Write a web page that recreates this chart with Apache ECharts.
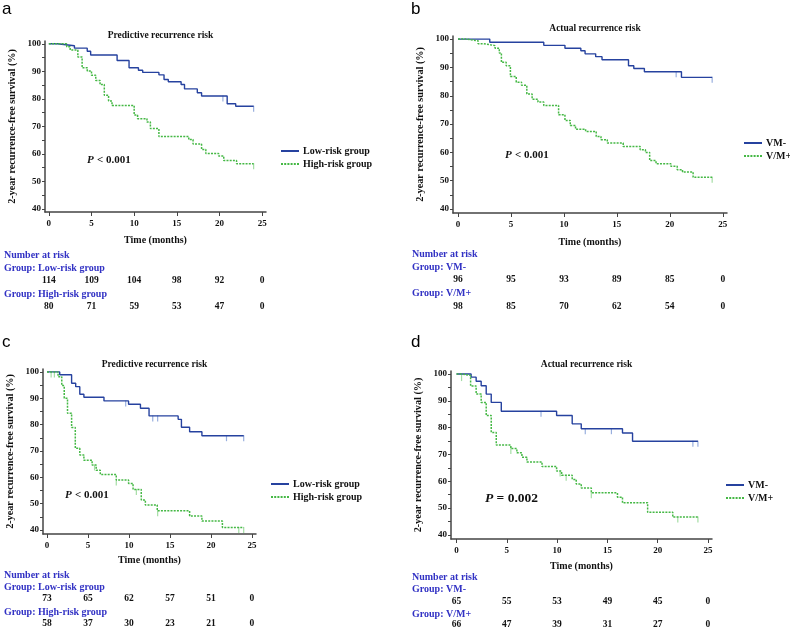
<!DOCTYPE html>
<html>
<head>
  <meta charset="utf-8">
  <title>Recurrence-free survival</title>
  <script src="https://cdn.jsdelivr.net/npm/echarts@6/dist/echarts.min.js"></script>
</head>
<body style="margin:0;background:#fff">
<div id="main" style="width: 790px;height:630px;"></div>
<script type="text/javascript">
  // KM curves: [time (months), survival %] after each drop
  var aLow = [[0,100],[1.0,99.3],[3.0,98.4],[4.5,97.3],[4.9,95.9],[8.0,93.9],[9.4,91.3],[10.5,90.4],[11.0,89.6],[12.9,88.7],[13.5,87.0],[14.0,86.2],[15.5,85.2],[15.9,83.6],[17.4,82.2],[17.9,81.0],[20.9,78.2],[21.9,77.3],[24.0,77.3]];
  var aHigh = [[0,100],[2.1,98.9],[2.5,97.7],[3.4,95.2],[3.9,91.3],[4.5,90.1],[5.0,88.6],[5.5,86.7],[6.0,85.2],[6.5,81.3],[7.0,79.2],[7.4,77.6],[10.0,74.1],[10.4,72.8],[11.5,71.6],[11.9,69.2],[12.9,66.3],[16.4,65.2],[16.9,63.6],[17.9,61.6],[18.4,60.1],[19.9,59.2],[20.5,57.6],[22.0,56.4],[24.0,56.4]];
  var bLow = [[0,100],[3.0,98.9],[8.1,97.8],[10.1,96.8],[11.6,95.9],[12.0,94.8],[13.0,93.8],[13.6,92.7],[16.1,90.6],[16.6,89.6],[17.6,88.5],[21.1,86.5],[24.0,86.5]];
  var bHigh = [[0,100],[0.8,99.4],[1.9,98.4],[2.4,97.7],[3.5,96.8],[3.9,95.1],[4.1,91.8],[4.55,90.6],[4.95,86.8],[5.5,84.8],[6.0,83.7],[6.5,80.6],[7.0,78.8],[7.55,77.8],[8.1,76.6],[9.5,73.3],[10.1,71.3],[10.6,69.5],[11.1,68.2],[12.05,67.4],[13.05,65.6],[13.5,64.5],[14.1,63.3],[15.6,62.1],[17.2,60.9],[17.7,60.0],[18.1,57.1],[18.7,56.0],[20.1,55.1],[20.7,53.9],[21.2,53.1],[22.2,51.2],[24.0,51.2]];
  var cLow = [[0,100],[1.55,98.9],[3.0,95.7],[3.5,94.4],[4.0,91.5],[4.5,90.4],[6.95,89.0],[9.95,87.7],[11.4,86.2],[12.45,83.3],[16.0,82.0],[16.4,79.0],[17.4,77.3],[18.9,75.8],[24.0,75.8]];
  var cHigh = [[0,100],[1.35,98.2],[1.8,94.8],[2.1,90.0],[2.5,84.3],[3.0,78.9],[3.45,71.0],[4.0,68.5],[4.5,66.5],[5.5,64.7],[6.0,62.7],[6.5,61.1],[8.45,59.0],[9.95,57.7],[10.5,55.4],[11.5,51.4],[12.0,49.5],[13.45,47.3],[17.4,45.3],[18.9,43.4],[21.4,41.0],[24.0,41.0]];
  var dLow = [[0,100],[1.45,98.8],[1.95,97.3],[2.45,95.6],[2.95,92.5],[3.45,89.4],[4.45,86.1],[9.95,84.5],[11.5,81.4],[12.4,79.6],[16.5,78.0],[17.5,74.9],[24.0,74.9]];
  var dHigh = [[0,100],[0.5,99.4],[1.4,95.5],[1.95,92.5],[2.45,89.4],[2.95,84.5],[3.45,78.2],[3.95,73.5],[5.4,72.2],[6.0,70.6],[6.5,69.0],[7.0,67.2],[8.5,65.5],[9.95,63.8],[10.45,62.3],[11.5,60.7],[11.9,59.0],[12.4,57.5],[13.4,55.7],[16.0,54.1],[16.5,52.0],[19.0,48.5],[21.5,46.7],[24.0,46.7]];

  // censored observations (months)
  var aLowCens = [20.4, 24];
  var aHighCens = [24];
  var bLowCens = [20.6, 24];
  var bHighCens = [24];
  var cLowCens = [9.6, 12.9, 13.5, 21.9, 24];
  var cHighCens = [0.5, 0.9, 5.8, 8.45, 10.9, 13.5, 23.4, 24];
  var dLowCens = [8.4, 12.8, 15.4, 23.5, 24];
  var dHighCens = [0.5, 5.4, 10.3, 10.9, 13.4, 22.0, 24];

  // numbers at risk at 0, 5, 10, 15, 20, 25 months
  var riskTimes = [0, 5, 10, 15, 20, 25];
  var aRiskLow = [114, 109, 104, 98, 92, 0];
  var aRiskHigh = [80, 71, 59, 53, 47, 0];
  var bRiskLow = [96, 95, 93, 89, 85, 0];
  var bRiskHigh = [98, 85, 70, 62, 54, 0];
  var cRiskLow = [73, 65, 62, 57, 51, 0];
  var cRiskHigh = [58, 37, 30, 23, 21, 0];
  var dRiskLow = [65, 55, 53, 49, 45, 0];
  var dRiskHigh = [66, 47, 39, 31, 27, 0];

  var xTicks = [0, 5, 10, 15, 20, 25];
  var yLabels = [40, 50, 60, 70, 80, 90, 100];
  var yTicks = [40, 45, 50, 55, 60, 65, 70, 75, 80, 85, 90, 95, 100];

  var SERIF = '"Liberation Serif", "Times New Roman", serif';
  var BLUE = '#26429f';
  var BLUE_LIGHT = '#7f9bd6';
  var GREEN = '#45b845';
  var TABLE_BLUE = '#3232c4';

  var panels = [
    { letter: 'a', title: 'Predictive recurrence risk', names: ['Low-risk group', 'High-risk group'],
      curves: [aLow, aHigh], cens: [aLowCens, aHighCens], risk: [aRiskLow, aRiskHigh], p: '< 0.001',
      grid: { left: 45, top: 41, width: 221, height: 171 }, xr: [-0.45, 25.45], yr: [38.9, 101],
      titleY: 26, timeGap: 23, legend: [280, 146], pPos: [87, 160], pSize: 11,
      letterPos: [2, 1], tableX: 4, tableY: [255, 268, 281, 294, 307] },
    { letter: 'b', title: 'Actual recurrence risk', names: ['VM-', 'V/M+'],
      curves: [bLow, bHigh], cens: [bLowCens, bHighCens], risk: [bRiskLow, bRiskHigh], p: '< 0.001',
      grid: { left: 453, top: 36, width: 274, height: 177 }, xr: [-0.47, 25.4], yr: [38.6, 101.1],
      titleY: 19, timeGap: 24, legend: [743, 138], pPos: [505, 155], pSize: 11,
      letterPos: [411, 1], tableX: 412, tableY: [254, 267, 280, 293, 307] },
    { letter: 'c', title: 'Predictive recurrence risk', names: ['Low-risk group', 'High-risk group'],
      curves: [cLow, cHigh], cens: [cLowCens, cHighCens], risk: [cRiskLow, cRiskHigh], p: '< 0.001',
      grid: { left: 43, top: 369, width: 213, height: 165 }, xr: [-0.49, 25.5], yr: [38.5, 101.1],
      titleY: 355, timeGap: 21, legend: [270, 479], pPos: [65, 495], pSize: 11,
      letterPos: [2, 334], tableX: 4, tableY: [575, 587, 599, 612, 624] },
    { letter: 'd', title: 'Actual recurrence risk', names: ['VM-', 'V/M+'],
      curves: [dLow, dHigh], cens: [dLowCens, dHighCens], risk: [dRiskLow, dRiskHigh], p: '= 0.002',
      grid: { left: 451, top: 371, width: 261, height: 168 }, xr: [-0.55, 25.4], yr: [38.5, 101.1],
      titleY: 355, timeGap: 22, legend: [725, 480], pPos: [485, 499], pSize: 13.5,
      letterPos: [411, 334], tableX: 412, tableY: [577, 589, 602, 614, 625] }
  ];

  function stepValue(curve, t) {
    var v = curve[0][1];
    for (var i = 0; i < curve.length; i++) {
      if (curve[i][0] <= t) v = curve[i][1];
    }
    return v;
  }

  var chart = echarts.init(document.getElementById('main'));

  var grids = [], xAxes = [], yAxes = [], series = [], legends = [], titles = [];
  panels.forEach(function (p, i) {
    grids.push(p.grid);
    titles.push({
      text: p.title, left: p.grid.left + p.grid.width / 2, top: p.titleY, textAlign: 'center',
      textStyle: { fontFamily: SERIF, fontWeight: 'bold', fontSize: 9.5, color: '#111' }
    });
    xAxes.push({
      type: 'value', gridIndex: i, min: p.xr[0], max: p.xr[1],
      name: 'Time (months)', nameLocation: 'middle', nameGap: p.timeGap,
      nameTextStyle: { fontFamily: SERIF, fontWeight: 'bold', fontSize: 10, color: '#111' },
      axisLine: { onZero: false, lineStyle: { color: '#444', width: 1.5 } },
      axisTick: { customValues: xTicks, length: 4, lineStyle: { color: '#444' } },
      axisLabel: { customValues: xTicks, margin: 7, fontFamily: SERIF, fontWeight: 'bold', fontSize: 9, color: '#111' },
      splitLine: { show: false }
    });
    yAxes.push({
      type: 'value', gridIndex: i, min: p.yr[0], max: p.yr[1],
      name: '2-year recurrence-free survival (%)', nameLocation: 'middle', nameGap: 28,
      nameTextStyle: { fontFamily: SERIF, fontWeight: 'bold', fontSize: 10.2, color: '#111' },
      axisLine: { onZero: false, lineStyle: { color: '#444', width: 1.5 } },
      axisTick: { customValues: yTicks, length: 3, lineStyle: { color: '#444' } },
      axisLabel: { customValues: yLabels, margin: 4, fontFamily: SERIF, fontWeight: 'bold', fontSize: 9, color: '#111' },
      splitLine: { show: false }
    });
    p.curves.forEach(function (c, k) {
      series.push({
        name: p.names[k], type: 'line', xAxisIndex: i, yAxisIndex: i, step: 'end',
        symbol: 'none', data: c, animation: false, silent: true,
        lineStyle: k === 0
          ? { color: BLUE, width: 1.4 }
          : { color: GREEN, width: 1.5, type: [2, 1.2] },
        itemStyle: { color: k === 0 ? BLUE : GREEN }
      });
      series.push({
        name: 'cens-' + p.letter + k, type: 'scatter', xAxisIndex: i, yAxisIndex: i,
        symbol: 'rect', symbolSize: [1.2, 6], symbolOffset: [0, 2.5], animation: false, silent: true,
        itemStyle: { color: k === 0 ? BLUE_LIGHT : '#8fd48f' },
        data: p.cens[k].map(function (t) { return [t, stepValue(c, t)]; })
      });
    });
    legends.push({
      data: p.names, orient: 'vertical', left: p.legend[0], top: p.legend[1], padding: 0,
      itemWidth: 18, itemHeight: 10, itemGap: 3, selectedMode: false,
      itemStyle: { opacity: 0 },
      textStyle: { fontFamily: SERIF, fontWeight: 'bold', fontSize: 10, color: '#111', padding: [0, 0, 0, -1] }
    });
  });

  var option = {
    backgroundColor: '#fff',
    animation: false,
    title: titles,
    legend: legends,
    grid: grids,
    xAxis: xAxes,
    yAxis: yAxes,
    series: series
  };
  chart.setOption(option);

  // panel letters, P values and the number-at-risk tables
  var graphic = [];
  panels.forEach(function (p, i) {
    graphic.push({
      type: 'text', left: p.letterPos[0], top: p.letterPos[1],
      style: { text: p.letter, font: '17px "Liberation Sans", Arial, sans-serif', fill: '#000' }
    });
    graphic.push({
      type: 'text', x: p.pPos[0], y: p.pPos[1],
      style: {
        text: '{i|P} {b|' + p.p + '}', verticalAlign: 'middle',
        rich: {
          i: { fontFamily: SERIF, fontWeight: 'bold', fontStyle: 'italic', fontSize: p.pSize, fill: '#111' },
          b: { fontFamily: SERIF, fontWeight: 'bold', fontSize: p.pSize, fill: '#111' }
        }
      }
    });
    var labels = ['Number at risk', 'Group: ' + p.names[0], null, 'Group: ' + p.names[1], null];
    labels.forEach(function (txt, r) {
      if (!txt) return;
      graphic.push({
        type: 'text', x: p.tableX, y: p.tableY[r],
        style: { text: txt, fontFamily: SERIF, fontWeight: 'bold', fontSize: 10, fill: TABLE_BLUE, verticalAlign: 'middle' }
      });
    });
    [2, 4].forEach(function (r, k) {
      p.risk[k].forEach(function (n, j) {
        var px = chart.convertToPixel({ xAxisIndex: i }, riskTimes[j]);
        graphic.push({
          type: 'text', x: px, y: p.tableY[r],
          style: { text: String(n), fontFamily: SERIF, fontWeight: 'bold', fontSize: 9.5, fill: '#111', align: 'center', verticalAlign: 'middle' }
        });
      });
    });
  });
  chart.setOption({ graphic: graphic });
</script>
</body>
</html>
